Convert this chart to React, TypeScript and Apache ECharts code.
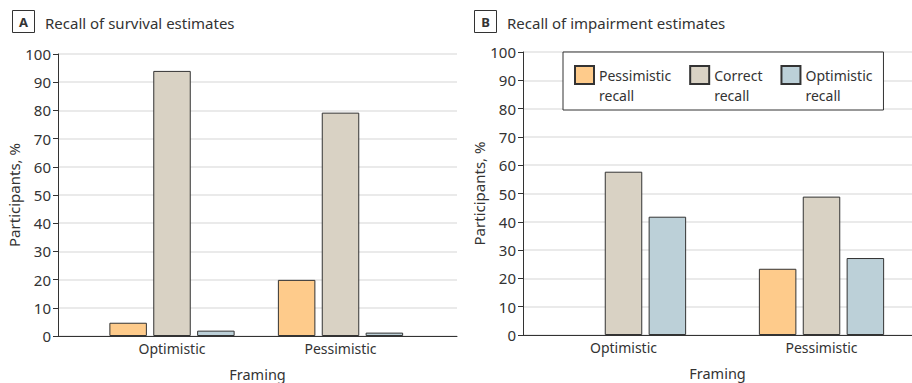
import React, { useEffect, useRef } from "react";
import * as echarts from "echarts";

const framing = ["Optimistic", "Pessimistic"];
const recallNames = ["Pessimistic\nrecall", "Correct\nrecall", "Optimistic\nrecall"];
const survivalPessimistic = [4.7, 19.9];
const survivalCorrect = [94.0, 79.2];
const survivalOptimistic = [1.9, 1.2];
const impairmentPessimistic = [0, 23.4];
const impairmentCorrect = [57.7, 48.9];
const impairmentOptimistic = [41.8, 27.2];
const barColors = ["#FECB8B", "#D9D2C4", "#BCD0D8"];
const panelTitles = ["Recall of survival estimates", "Recall of impairment estimates"];
const panelLetters = ["A", "B"];
const yAxisName = "Participants, %";
const xAxisName = "Framing";

const FONT = "'Noto Sans', sans-serif";
const TXT = "#333333";

export default function App() {
  const ref = useRef<HTMLDivElement>(null);
  useEffect(() => {
    document.body.style.margin = "0";
    if (!ref.current) return;
    const chart = echarts.init(ref.current, null, { renderer: "svg" });

    const bgX = (gi: number) => ({
      gridIndex: gi,
      type: "value",
      min: 0,
      max: 1,
      axisLine: { show: true, lineStyle: { color: TXT, width: 1 } },
      axisTick: { show: false },
      axisLabel: { show: false },
      splitLine: { show: false },
      name: xAxisName,
      nameLocation: "middle",
      nameGap: 30,
      nameTextStyle: { fontSize: 14.5, color: TXT, fontFamily: FONT },
    });
    const catX = (gi: number) => ({
      gridIndex: gi,
      type: "category",
      data: framing,
      axisLine: { show: false },
      axisTick: { show: false },
      axisLabel: { fontSize: 14, color: TXT, fontFamily: FONT, margin: 5 },
    });
    const bgY = (gi: number) => ({
      gridIndex: gi,
      type: "value",
      min: 0,
      max: 100,
      interval: 10,
      axisLine: { show: true, lineStyle: { color: TXT, width: 1 } },
      axisTick: { show: true, length: 5, lineStyle: { color: TXT } },
      axisLabel: { fontSize: 15, color: TXT, fontFamily: FONT, margin: 7 },
      splitLine: { show: true, lineStyle: { color: "#e3e3e3", width: 1.5 } },
      name: yAxisName,
      nameLocation: "middle",
      nameRotate: 90,
      nameGap: 33,
      nameTextStyle: { fontSize: 15, color: TXT, fontFamily: FONT },
    });
    const hidY = (gi: number) => ({
      gridIndex: gi,
      type: "value",
      min: 0,
      max: 100,
      show: false,
    });

    const mkBars = (vals: number[][], xi: number) =>
      vals.map((d, i) => ({
        type: "bar",
        name: recallNames[i],
        xAxisIndex: xi,
        yAxisIndex: xi,
        data: d.map((v) => (v === 0 ? { value: v, itemStyle: { borderWidth: 0, opacity: 0 } } : v)),
        barWidth: 37.5,
        barGap: "17%",
        itemStyle: { color: barColors[i], borderColor: TXT, borderWidth: 1 },
      }));

    const titleGraphic = (x: number, letter: string, title: string) => [
      {
        type: "rect",
        shape: { x: x + 0.5, y: 10.5, width: 22, height: 22 },
        style: { fill: "#fff", stroke: TXT, lineWidth: 1 },
      },
      {
        type: "text",
        x: x + 11.5,
        y: 22,
        style: {
          text: letter,
          fill: TXT,
          font: `bold 13px ${FONT}`,
          textAlign: "center",
          textVerticalAlign: "middle",
        },
      },
      {
        type: "text",
        x: x + 33,
        y: 22.5,
        style: {
          text: title,
          fill: TXT,
          font: `15px ${FONT}`,
          textAlign: "left",
          textVerticalAlign: "middle",
        },
      },
    ];

    const g = (left: number, top: number, width: number, height: number) => ({
      left,
      top,
      width,
      height,
      containLabel: false,
      outerBoundsMode: "none",
    });

    chart.setOption({
      animation: false,
      textStyle: { fontFamily: FONT },
      grid: [
        g(58, 54, 399, 282),
        g(87.75, 54, 337, 282),
        g(523, 52, 389, 283),
        g(524.5, 52, 396, 283),
      ],
      xAxis: [bgX(0), catX(1), bgX(2), catX(3)],
      yAxis: [bgY(0), hidY(1), bgY(2), hidY(3)],
      legend: {
        data: recallNames,
        left: 563,
        top: 52,
        orient: "horizontal",
        padding: [13, 11, 5, 11],
        itemGap: 18,
        itemWidth: 19,
        itemHeight: 38,
        icon: "path://M0,0H19V18H0Z M0,38",
        borderColor: TXT,
        borderWidth: 1,
        backgroundColor: "#fff",
        selectedMode: false,
        textStyle: { fontSize: 14, lineHeight: 20, color: TXT, fontFamily: FONT },
      },
      graphic: [
        ...titleGraphic(12, panelLetters[0], panelTitles[0]),
        ...titleGraphic(474, panelLetters[1], panelTitles[1]),
      ],
      series: [
        ...mkBars([survivalPessimistic, survivalCorrect, survivalOptimistic], 1),
        ...mkBars([impairmentPessimistic, impairmentCorrect, impairmentOptimistic], 3),
      ],
    });
    return () => chart.dispose();
  }, []);
  return <div ref={ref} style={{ width: 912, height: 383 }} />;
}
